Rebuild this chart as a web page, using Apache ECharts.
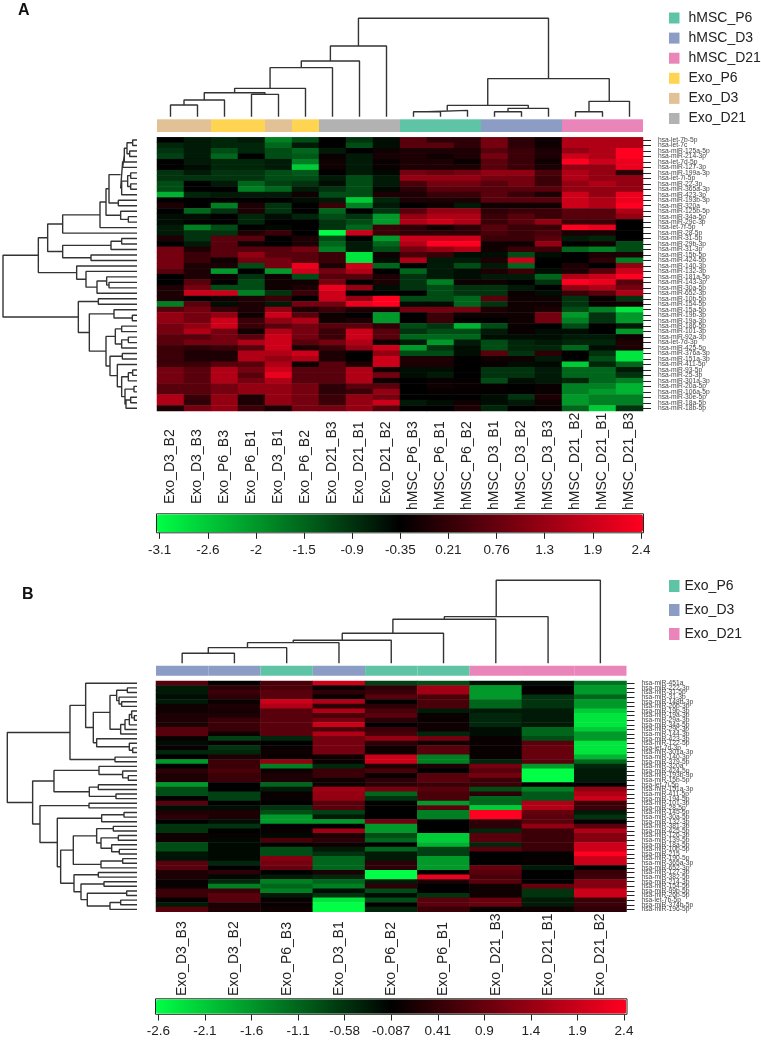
<!DOCTYPE html>
<html><head><meta charset="utf-8">
<style>html,body{margin:0;padding:0;background:#fff}#c{width:761px;height:1044px}</style>
<script src="https://cdn.jsdelivr.net/npm/echarts@6/dist/echarts.min.js"></script>
</head><body><div id="c"></div>
<script>
// Panel A ------------------------------------------------------------
const samplesA=['Exo_D3_B2','Exo_D3_B3','Exo_P6_B3','Exo_P6_B1','Exo_D3_B1','Exo_P6_B2','Exo_D21_B3','Exo_D21_B1','Exo_D21_B2','hMSC_P6_B3','hMSC_P6_B1','hMSC_P6_B2','hMSC_D3_B1','hMSC_D3_B2','hMSC_D3_B3','hMSC_D21_B2','hMSC_D21_B1','hMSC_D21_B3'];
const groupsA=['Exo_D3','Exo_D3','Exo_P6','Exo_P6','Exo_D3','Exo_P6','Exo_D21','Exo_D21','Exo_D21','hMSC_P6','hMSC_P6','hMSC_P6','hMSC_D3','hMSC_D3','hMSC_D3','hMSC_D21','hMSC_D21','hMSC_D21'];
const mirnaA=['hsa-let-7b-5p','hsa-let-7c','hsa-miR-125a-5p','hsa-miR-214-3p','hsa-let-7d-5p','hsa-miR-127-3p','hsa-miR-199a-3p','hsa-let-7i-5p','hsa-miR-22-3p','hsa-miR-365a-3p','hsa-miR-423-3p','hsa-miR-193b-3p','hsa-miR-320a','hsa-miR-125b-5p','hsa-miR-34a-5p','hsa-miR-29c-3p','hsa-let-7f-5p','hsa-miR-28-5p','hsa-miR-31-5p','hsa-miR-29b-3p','hsa-miR-31-3p','hsa-miR-15b-5p','hsa-miR-424-5p','hsa-miR-140-3p','hsa-miR-132-3p','hsa-miR-181a-5p','hsa-miR-143-3p','hsa-miR-30a-5p','hsa-miR-652-3p','hsa-miR-10b-5p','hsa-miR-154-5p','hsa-miR-15a-5p','hsa-miR-19b-3p','hsa-miR-19a-3p','hsa-miR-186-5p','hsa-miR-101-3p','hsa-miR-92a-3p','hsa-let-7d-3p','hsa-miR-425-5p','hsa-miR-376a-3p','hsa-miR-151a-3p','hsa-miR-411-5p','hsa-miR-93-5p','hsa-miR-25-3p','hsa-miR-301a-3p','hsa-miR-20a-5p','hsa-miR-106a-5p','hsa-miR-30e-5p','hsa-miR-18a-5p','hsa-miR-18b-5p'];
const ticksA=['-3.1','-2.6','-2','-1.5','-0.9','-0.35','0.21','0.76','1.3','1.9','2.4'];
// Cell readings, as signed steps from black on the colour key (one row per miRNA)
const rowsA=[
[0,-1,-1.5,-1,-5,-3,0,-2,-.5,3,1.5,1.5,4,1.5,.5,6,6,6],
[-1.5,-1,-1.5,-1.5,-4,-1,0,-3,-.5,3,3,1.5,4,1.5,.5,6,6,6],
[-2,-1,-3,-1.5,-3,-4,-1,0,.5,1,1,1,3,2,1,5,6,10],
[-2.5,-1,-4,0,-3,-3.5,.3,-1,.8,1,.5,1,4,2,1,7,6,9],
[0,-1,-1.5,-1.5,-1,-5,.5,-1,.3,1,1,.3,3,2,.5,10,7,8],
[0,-.5,-1.5,-1.5,-1,-8,.5,-1,.3,1,1,1,3,2,1,5,5,8],
[-2,-1,-2,-2,-3,-3.5,0,-1,-.3,4,3.5,4,5,5,2.5,6,5,1.5],
[-2,-2,-2,-2,-3,-3,-1,-3,-1,5,5,5,4,4,2,6,5,5],
[-3,0,-1,-4,-2.5,-2,-.5,-3,-1,2.5,4,4,3,4,2,5,6,5],
[-3,0,0,-5,-4,-1,-2,-3,-.3,1.5,3,3,3,3,3,5,5,5],
[-7,-1.5,-1,-1,-1,.5,-3,-3,1,1,2,2,3,2,1,7,5,8],
[0,0,0,0,0,-.5,-1,-8,-1.5,1,1,1,3,3,3,7,6,8],
[1,0,-5,1,-2,0,2,-5,-1,0,.5,-1,.5,.5,.5,7,6,10],
[0,-4,-2,1,-2,0,-4,0,-2,3,5,5,1.5,2,2,3,3,6],
[-.5,-.5,0,-1.5,-.5,-1.5,-3,-2,-6,5,6,6,2,3,2,3,3,5],
[-.5,0,0,-1.5,0,0,-2,-3,-6,6,7,6,2,3,5,2,2,0],
[-1,-5,-3,0,-.3,0,-2,-4,2,1.5,.5,1.5,3,2,2,10,8,0],
[-1,-2,-2,1,2,0,-10,7,2,1.5,1.5,1.5,2.5,2,2.5,1,1,0],
[1,-2,3,3,0,1,-3,0,-6,7,7,7,2,2,3,-1,-1.5,0],
[0,-1,3,.5,0,1,-4,-1,-4,6,9,9,.5,.5,5,0,.5,-3],
[4,1,3,3,3,4,-5,-1,-3,4,5,6,.5,2,2,-4,-5,-3],
[4,2,3,5,3,3,2,-9,.5,2.5,2,-.5,-.5,-3,-.5,0,1,1],
[4,2,.5,4,4,3,2,-9,-.5,6,-1,-1,1,7,0,0,1.5,-5],
[4,1,1,-3,4,8,1,7,-4,0,-1,-3,-1,-4,0,1,0,5],
[3,1,-6,0,-6,7,4,6,0,-4,-1,-.5,1,2,-.5,1,3,7],
[0,1,.5,-2,.5,-3,3,3,1,-2,-1,-.5,-1,-1,-4,6,7,10],
[0,3,0,-3,.5,.5,4,0,1,-2,-5,.5,.5,0,-2,10,8,3],
[1,4,-3,-3,.5,1,8,5,-.5,-2,-3,-2,-2,-1,0,5,6,4],
[1,7,7,-5,-2,2,7,0,0,0,-3,-2,-2,.3,-.5,2,3,6],
[1,0,.5,1,2,0,7,5,10,-3,-3,-4,3,.5,.5,-2,.3,-2],
[-5,3,-.5,1,-1,4,4,8,10,-.5,-.5,-4,-2,.5,.5,-2,.3,.7],
[3,4,2,1,5,1,2,1,1,4,4,4,1,.5,1,-3,-5,-9],
[5,4,5,.5,7,3,.5,0,-6,0,2,.5,.5,.5,4,-6,-2,-6],
[5,4,7,2,5,6,.5,1,-6,0,2,0,0,.5,4,-5,-2,-6],
[4,5,7,2,3,4,3,3,1.5,-3,-2,-7,-3,.3,0,-3,0,-1],
[4,6,4,.5,6,4,2,7,3,-2,-3,-3,-1,.3,-.5,-.5,0,-6],
[3,3,4,3,7,4,2,7,3,-4,-4,-4,-.5,-.5,-.5,-1,-1,.5],
[3,4,4,6,7,3,4,6,.5,-1,-6,-1,-3,-1.5,-1,-1.5,-1.5,1],
[2,1.5,2,3,7,1,2,5,7,-6,-2,-.5,-3,-1.5,-1.5,-4,-.5,1],
[2,1,1,6,6,7,1,0,5,-3,-3,-.5,3,-2,1.5,0,-2,-9],
[2,1,1,6,5,6,1,0,7,1,1,0,.5,.5,-1,0,-3,-9],
[2,2,3,3,6,.5,3,1,7,1,1,0,.3,-.5,-.3,-8,-1.5,-4],
[4,3,6,4,7,3,3,6,.5,-.5,-.5,0,-2,-2,-1,-4,-4,-1],
[4,3,6,3,8,3,3,6,4,-.5,-1,0,-2,-2,-1,-4,-4,-2],
[4,3,6,4,6,3,3,6,.5,0,.3,.2,-3,-.5,-1,-1.5,-4,-5],
[3,3,4,5,5,4,1.5,3,3,0,.5,.3,.2,0,.3,-5,-5,-7],
[3,3,4,5,5,4,1.5,2,5,0,.2,.2,.1,0,.3,-5,-6,-7],
[6,2,5,1,5,4,2,5,4,0,0,0,-.5,-2,1,-6,-5,-5],
[6,1.5,5,1,5,4,2,5,7,-1,-.5,.5,-.5,-1,.5,-6,-5,-5],
[1,4,5,2,1,4,4,5,3,0,0,1,-1.5,0,.3,-4,-8,-2]];
// Merge trees: [height, left, right]; a plain number is a leaf index
const colTreeA=[295,[212,[167,[147,[85,[72,[50,[35,0,1],2],[67,3,4]],5],6],7],8],[114,[34,[19,[15,9,10],11],[25,[15,12,13],14]],[46,[15,15,16],17]]];
const rowTreeA=[402,
 [296,
  [268,
   [223,[111,[93,[84,[49,[43,[38,[30,[13,0,1],[22,2,3]],4],5],[46,[28,[19,6,7],[19,8,9]],10]],[56,11,12]],[49,13,[26,14,15]]],16],17],
   [223,[78,[46,18,19],20],[138,21,22]]],
  [181,23,[153,24,[120,[91,25,[84,26,27]],28]]]],
 [176,[116,29,30],
  [143,[69,31,[14,32,33]],
   [93,[65,[46,34,35],[46,[26,36,37],38]],
    [81,[44,39,40],[59,41,[46,[26,[13,42,43],44],[36,[9,45,46],[33,[19,47,48],49]]]]]]]]];

// Panel B ------------------------------------------------------------
const samplesB=['Exo_D3_B3','Exo_D3_B2','Exo_P6_B3','Exo_D3_B1','Exo_P6_B2','Exo_P6_B1','Exo_D21_B3','Exo_D21_B1','Exo_D21_B2'];
const groupsB=['Exo_D3','Exo_D3','Exo_P6','Exo_D3','Exo_P6','Exo_P6','Exo_D21','Exo_D21','Exo_D21'];
const mirnaB=['hsa-miR-451a','hsa-miR-222-3p','hsa-miR-31-5p','hsa-miR-31-3p','hsa-miR-148b-3p','hsa-miR-26b-3p','hsa-miR-19b-3p','hsa-miR-19a-3p','hsa-miR-29a-3p','hsa-miR-34a-5p','hsa-miR-29c-3p','hsa-miR-144-3p','hsa-miR-423-3p','hsa-miR-122-5p','hsa-let-7d-3p','hsa-miR-301a-3p','hsa-miR-140-3p','hsa-miR-379-5p','hsa-miR-320a','hsa-miR-424-5p','hsa-miR-193b-3p','hsa-miR-15b-5p','hsa-let-7i-5p','hsa-miR-151a-3p','hsa-miR-411-5p','hsa-miR-194-5p','hsa-miR-101-3p','hsa-miR-28-5p','hsa-miR-145-5p','hsa-miR-30a-5p','hsa-miR-132-3p','hsa-miR-381-3p','hsa-miR-425-5p','hsa-miR-126-3p','hsa-miR-139-5p','hsa-miR-18a-5p','hsa-miR-10b-5p','hsa-miR-215','hsa-miR-190-5p','hsa-miR-365a-3p','hsa-miR-652-3p','hsa-miR-127-3p','hsa-miR-382-5p','hsa-miR-214-3p','hsa-miR-154-5p','hsa-miR-99b-5p','hsa-miR-26b-5p','hsa-let-7b-5p','hsa-miR-374b-5p','hsa-miR-196-5p'];
const ticksB=['-2.6','-2.1','-1.6','-1.1','-0.58','-0.087','0.41','0.9','1.4','1.9','2.4'];
// Cell readings, as signed steps from black on the colour key (one column per sample)
const exoD3B3=[3,-1,-1,-.5,-1,.5,.5,1,1,1,3,3,.3,-.5,.3,-1.5,0,-6,0,1.5,1,1,-6,-3,-3,0,3,-.5,1,1.5,0,-2,-2,.5,.5,-3,-3,-.8,-.8,3,3,1,1,.3,.3,2,2,.2,-1,3];
const exoD3B2=[0,1.5,2,1.5,.3,1,.8,1,2,2,2,.5,-2.5,.3,-2,-1.5,1,2,2,2.5,2,2,0,0,-2.5,-2.5,0,-.5,1,1,-.5,-2,0,.3,-.3,-.3,-.3,-.3,-.3,-1.5,0,1.5,-.3,-1.5,-5,2,3,3,1,1];
const exoP6B3=[2.5,2.5,3,3,7,6,3,3,3,3,3,3,-1.5,0,.3,.5,.3,5,-5,.5,1,1,-4,-1,.3,.3,0,-2,-3,-6,-6,0,.3,-.3,2.5,.3,-3,-3,4.5,4,3.5,0,-1,-5,-4,-5,-1,.3,.3,.5];
const exoD3B1=[7,.3,1.5,.3,6,1.5,6,2.5,4,7,2.5,6,4,4,4,4,.5,.3,-1.5,2,2,.5,.5,5.5,5,5,3,3,-2.5,-1,-6,0,5.5,1,1.5,.5,-1,-2,-4,-4,-4,1,-1.5,-4,-5,-.5,-2,-9,-10,-10];
const exoP6B2=[-2.5,1.5,2,3,0,1.5,2.5,3,1.5,0,2,2.5,5,1.5,.5,.5,7,7,1,2.5,.3,1.5,1.5,4,-4,-2,0,0,0,0,4,-6,-6,-3,-4,0,-4,-1,-1,1.5,1.5,-10,-10,-1,1.5,-3,-.5,-3,0,-1.5];
const exoP6B1=[-3,5.5,5.5,2.5,2.5,2.5,-1,.3,.3,.5,.5,-1.5,4,.5,3,3,-5,-5,1,0,3,3,2,3,2.5,2.5,-6,3,-5,-5,0,0,0,-8,-8,-7,-2.5,-2.5,-6,-6,-6,0,8,1,0,0,-2,3,3,2];
const exoD21B3=[-.8,-6,-6,-6,-4,-4,-1,-1.5,-1.5,-1.5,-.5,-.5,.3,.3,.3,.3,.3,-1.5,4,3,4,2,2,-3,1.5,-4,-4,-8,10,10,1.5,1.5,-1.5,3,3,-1.5,3,0,0,0,3.5,3,2.5,3,.5,.5,.5,3.5,3.5,.3];
const exoD21B1=[-.5,0,.2,-2,-2,-2,-1,-1,-1,-1,-4,-4,-3,3,3.5,3.5,3.5,3,-6,-10,-10,-10,0,-5,-3.5,-3.5,6,6,3.5,3,3,5,2,2,2,2,2,.1,.2,.2,-1,0,0,0,3.5,-2,-2,-1,-1,.5];
const exoD21B2=[-4.5,-6,-6,-4,-6,-6,-8,-9,-9,-9,-8,-6,-6,-9,-9,-9,-7,-4,-1.5,-1,-1,-1,0,5,6,7,2,2,-1,-2,0,3,6,4.5,4.5,7,7,9,7,7,0,2,2,4.5,4.5,7,7,2,2,1.5];
const columnsB=[exoD3B3,exoD3B2,exoP6B3,exoD3B1,exoP6B2,exoP6B1,exoD21B3,exoD21B1,exoD21B2];
const colTreeB=[249,[140,[132,[90,[69,[62,[47,[30,0,1],2],3],4],5],6],7],8];
const rowTreeB=[389,
 [201,[154,0,[131,
   [81,[61,[29,1,2],[54,3,[46,4,5]]],[49,[36,[23,[16,6,[8,7,8]],9],10],11]],
   [121,12,[23,13,[13,14,15]]]]],[66,16,17]],
 [313,
  [249,[114,18,[43,19,[26,20,21]]],[143,[116,22,23],[63,24,25]]],
  [291,[144,26,27],
   [239,[106,[39,28,29],30],
    [229,
     [191,[121,[71,31,32],[108,[56,33,34],[76,35,[53,36,37]]]],[108,[43,38,39],40]],
     [189,[116,41,42],[168,[99,43,44],[149,[31,45,46],[81,[49,47,48],49]]]]]]]]];

// Shared -------------------------------------------------------------
const groupColor={hMSC_P6:'#5fc4a6',hMSC_D3:'#8b9dc5',hMSC_D21:'#ea85b9',Exo_P6:'#ffd452',Exo_D3:'#e3c196',Exo_D21:'#b2b2b2'};
const groupColorB={Exo_P6:'#5fc4a6',Exo_D3:'#8b9dc5',Exo_D21:'#ea85b9'};
const legendA=['hMSC_P6','hMSC_D3','hMSC_D21','Exo_P6','Exo_D3','Exo_D21'];
const legendB=['Exo_P6','Exo_D3','Exo_D21'];
const keyColors=['#00ff46','#000000','#ff0020'];
const font='"Liberation Sans",Arial,sans-serif';

const grid=[],xAxis=[],yAxis=[],series=[];
function addGrid(rect,xa,ya){
  const i=grid.length;
  grid.push(Object.assign({containLabel:false},rect));
  xAxis.push(Object.assign({gridIndex:i,show:false},xa));
  yAxis.push(Object.assign({gridIndex:i,show:false},ya));
  return i;
}
// segments of a dendrogram in data units: p(along leaves, height)
function treeSegments(tree,p){
  const out=[];
  function walk(n){
    if(typeof n==='number')return{pos:n+.5,h:0};
    const a=walk(n[1]),b=walk(n[2]),h=n[0];
    out.push(p(a.pos,a.h),p(a.pos,h),p(b.pos,h),p(b.pos,b.h),['-','-']);
    return{pos:(a.pos+b.pos)/2,h};
  }
  walk(tree);
  return out;
}
const lineStyle={color:'#333',width:1.4};
function dendroTop(tree,n,left,width,top,height){
  const g=addGrid({left,width,top,height},{type:'value',min:0,max:n},{type:'value',min:0,max:tree[0]});
  series.push({type:'line',xAxisIndex:g,yAxisIndex:g,data:treeSegments(tree,(x,h)=>[x,h]),showSymbol:false,symbol:'none',lineStyle,clip:false,silent:true,animation:false,connectNulls:false});
}
function dendroLeft(tree,n,right,width,top,height){
  const g=addGrid({left:right-width,width,top,height},{type:'value',min:0,max:tree[0],inverse:true},{type:'value',min:0,max:n,inverse:true});
  series.push({type:'line',xAxisIndex:g,yAxisIndex:g,data:treeSegments(tree,(y,h)=>[h,y]),showSymbol:false,symbol:'none',lineStyle,clip:false,silent:true,animation:false,connectNulls:false});
}
function heat(samples,rows,values,rect,labelMargin){
  const g=addGrid(rect,{type:'category',data:samples},{
    type:'category',data:rows,inverse:true,position:'right',show:true,
    axisLine:{show:false},axisTick:{show:true,alignWithLabel:true,length:8,lineStyle:{color:'#222',width:1}},
    axisLabel:{interval:0,margin:labelMargin,fontSize:6.7,color:'#444',fontFamily:font}});
  series.push({type:'heatmap',xAxisIndex:g,yAxisIndex:g,data:values,animation:false,progressive:0,silent:true});
}
function annotation(samples,groups,colors,rect){
  const g=addGrid(rect,{type:'category',data:samples},{type:'value',min:0,max:1});
  [...new Set(groups)].forEach(name=>{
    series.push({type:'bar',name,xAxisIndex:g,yAxisIndex:g,barWidth:'100%',barGap:'-100%',animation:false,silent:true,
      itemStyle:{color:colors[name]},data:groups.map(v=>v===name?1:'-')});
  });
}
function sampleLabels(samples,keep,left,width,top){
  const g=addGrid({left,width,top,height:1},{type:'category',show:true,position:'top',data:samples,axisLine:{show:false},axisTick:{show:false},
    axisLabel:{interval:0,rotate:90,margin:0,fontSize:14,color:'#222',fontFamily:font,formatter:v=>keep(v)?v:''}},{type:'value'});
  series.push({type:'line',xAxisIndex:g,yAxisIndex:g,data:[],silent:true});
}
function keyAxis(ticks,left,width,top,boxLeft,boxTop,boxW,boxH){
  addGrid({show:true,left:boxLeft,top:boxTop,width:boxW,height:boxH,borderColor:'#1c2a1c',borderWidth:1,backgroundColor:'transparent'},{type:'value'},{type:'value'});
  const g=addGrid({left,width,top,height:1},{type:'category',show:true,boundaryGap:false,data:ticks,axisLine:{show:false},
    axisTick:{show:true,length:6,lineStyle:{color:'#222',width:1}},
    axisLabel:{interval:0,margin:10,fontSize:13.5,color:'#222',fontFamily:font,showMinLabel:true,showMaxLabel:true,hideOverlap:false}},{type:'value'});
  series.push({type:'line',xAxisIndex:g,yAxisIndex:g,data:[],silent:true});
}
// key: value = middle of the colour key + steps * size of one step;
// red readings came out about 15% dim against the reference, hence redGain
const midA=-0.35,stepA=0.275,midB=-0.1,stepB=0.25,redGain=1.15;
const toValue=(s,mid,step)=>+(mid+(s>0?Math.min(10,s*redGain):s)*step).toFixed(3);
const heatA=[];rowsA.forEach((r,y)=>r.forEach((s,x)=>heatA.push([x,y,toValue(s,midA,stepA)])));
const heatB=[];columnsB.forEach((c,x)=>c.forEach((s,y)=>heatB.push([x,y,toValue(s,midB,stepB)])));

heat(samplesA,mirnaA,heatA,{left:157,top:137.3,width:486,height:273.7},15);
heat(samplesB,mirnaB,heatB,{left:156,top:681,width:470.5,height:230.7},15);
annotation(samplesA,groupsA,groupColor,{left:157,top:119.3,width:486,height:12.7});
annotation(samplesB,groupsB,groupColorB,{left:156,top:665.7,width:470.5,height:10});
dendroTop(colTreeA,18,157,486,18.3,98.4);
dendroTop(colTreeB,9,156,470.5,580.3,83);
dendroLeft(rowTreeA,50,137,134,137.3,273.7);
dendroLeft(rowTreeB,50,137,129.7,681,230.7);
sampleLabels(samplesA,v=>v.startsWith('Exo'),157,486,504);
sampleLabels(samplesA,v=>v.startsWith('hMSC'),157,486,510);
sampleLabels(samplesB,()=>true,156,470.5,996);
keyAxis(ticksA,159.7,481.3,531.8,156.5,513.8,487,19);
keyAxis(ticksB,158.4,465.6,1013.5,155.5,998.8,471.5,15.5);

const legendCommon={orient:'vertical',icon:'rect',selectedMode:false,itemWidth:10.5,padding:0,textStyle:{fontSize:14,color:'#222',fontFamily:font}};
const option={
  animation:false,backgroundColor:'#fff',
  title:[
    {text:'A',left:18,top:3,padding:0,textStyle:{fontSize:16,fontWeight:'bold',color:'#111',fontFamily:font}},
    {text:'B',left:22,top:587,padding:0,textStyle:{fontSize:16,fontWeight:'bold',color:'#111',fontFamily:font}}],
  grid,xAxis,yAxis,series,
  legend:[
    Object.assign({},legendCommon,{left:669,top:11,itemHeight:11,itemGap:6.1,
      textStyle:Object.assign({},legendCommon.textStyle,{padding:[0,0,0,4]}),
      data:legendA.map(name=>({name,itemStyle:{color:groupColor[name]}}))}),
    Object.assign({},legendCommon,{left:669,top:579,itemHeight:12,itemGap:10,
      data:legendB.map(name=>({name,itemStyle:{color:groupColorB[name]}}))})],
  visualMap:[
    {seriesIndex:0,min:-3.1,max:2.4,orient:'horizontal',left:157,top:514.3,itemWidth:18,itemHeight:486,padding:0,calculable:false,hoverLink:false,text:null,inRange:{color:keyColors}},
    {seriesIndex:1,min:-2.6,max:2.4,orient:'horizontal',left:156,top:999.3,itemWidth:14.5,itemHeight:470.5,padding:0,calculable:false,hoverLink:false,text:null,inRange:{color:keyColors}}]
};
const chart=echarts.init(document.getElementById('c'),null,{width:761,height:1044,renderer:'canvas'});
chart.setOption(option);
</script></body></html>
